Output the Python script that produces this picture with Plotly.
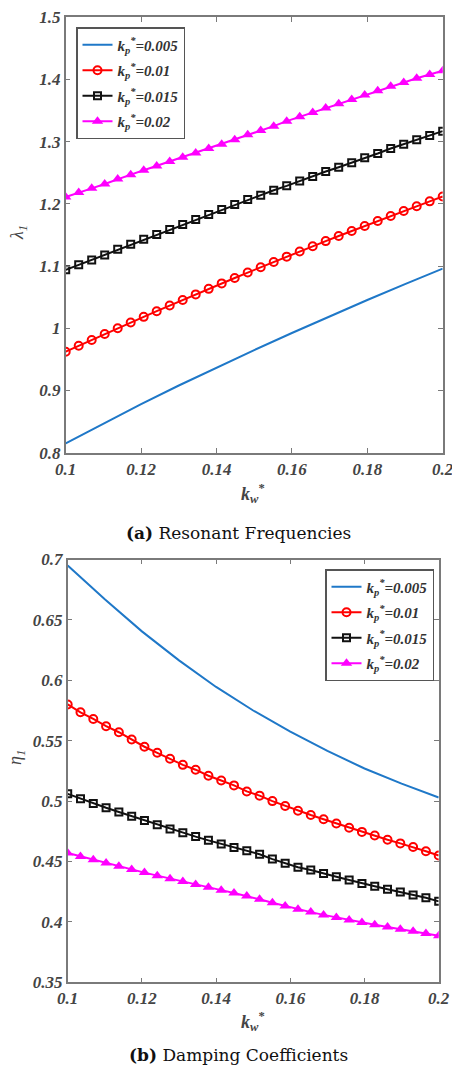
import numpy as np
import plotly.graph_objects as go

# ---- data -------------------------------------------------------------
kw_markers = np.linspace(0.1, 0.2, 30)
kw_line = [0.10, 0.11, 0.12, 0.13, 0.14, 0.15, 0.16, 0.17, 0.18, 0.19, 0.20]

series_names = ["0.005", "0.01", "0.015", "0.02"]

# (a) resonant frequencies lambda_1
lam_005 = [0.815, 0.847, 0.878, 0.908, 0.937, 0.965, 0.9925, 1.0195, 1.0455, 1.071, 1.096]
lam_010 = [0.9624, 0.9719, 0.9813, 0.9907, 1.0000, 1.0092, 1.0184, 1.0275, 1.0366, 1.0456,
           1.0545, 1.0634, 1.0722, 1.0809, 1.0896, 1.0982, 1.1067, 1.1152, 1.1236, 1.1319,
           1.1402, 1.1484, 1.1565, 1.1646, 1.1726, 1.1806, 1.1885, 1.1963, 1.2041, 1.2118]
lam_015 = [1.094, 1.102, 1.110, 1.118, 1.127, 1.135, 1.143, 1.151, 1.159, 1.167,
           1.175, 1.183, 1.191, 1.199, 1.207, 1.214, 1.222, 1.229, 1.237, 1.244,
           1.252, 1.259, 1.266, 1.274, 1.281, 1.289, 1.296, 1.303, 1.310, 1.317]
lam_020 = [1.211, 1.2185, 1.225, 1.232, 1.240, 1.247, 1.254, 1.261, 1.268, 1.275,
           1.282, 1.289, 1.296, 1.303, 1.311, 1.318, 1.325, 1.333, 1.340, 1.347,
           1.354, 1.361, 1.368, 1.375, 1.382, 1.389, 1.395, 1.402, 1.408, 1.414]

# (b) damping coefficients eta_1
eta_005 = [0.695, 0.667, 0.6405, 0.6165, 0.5945, 0.575, 0.5575, 0.5415, 0.527, 0.5145, 0.503]
eta_010 = [0.580, 0.5735, 0.568, 0.562, 0.557, 0.551, 0.545, 0.540, 0.535, 0.530,
           0.526, 0.521, 0.517, 0.513, 0.508, 0.5045, 0.500, 0.496, 0.492, 0.4885,
           0.485, 0.4815, 0.478, 0.4745, 0.4715, 0.468, 0.465, 0.462, 0.4585, 0.455]
eta_015 = [0.506, 0.502, 0.498, 0.4945, 0.491, 0.4875, 0.484, 0.4805, 0.477, 0.4738,
           0.4706, 0.4675, 0.4645, 0.4615, 0.4588, 0.456, 0.452, 0.4485, 0.4452, 0.443,
           0.440, 0.4374, 0.4347, 0.4318, 0.4295, 0.427, 0.4248, 0.4223, 0.4200, 0.417]
eta_020 = [0.457, 0.4542, 0.4514, 0.4487, 0.446, 0.4434, 0.4408, 0.4383, 0.4358, 0.4334,
           0.431, 0.4286, 0.4263, 0.424, 0.4215, 0.4187, 0.4158, 0.4131, 0.4105, 0.4081,
           0.4058, 0.4036, 0.4015, 0.3995, 0.3976, 0.3958, 0.394, 0.3922, 0.3904, 0.3886]

lam_ticks = [0.8, 0.9, 1.0, 1.1, 1.2, 1.3, 1.4, 1.5]
eta_ticks = [0.35, 0.4, 0.45, 0.5, 0.55, 0.6, 0.65, 0.7]
kw_ticks = [0.1, 0.12, 0.14, 0.16, 0.18, 0.2]

# ---- styling ----------------------------------------------------------
W, H = 452, 1066
SERIF = "Liberation Serif"
tickfont = dict(family=SERIF, size=17, color="#444444", weight="bold", style="italic")
legfont = dict(family=SERIF, size=15, color="#333333", weight="bold", style="italic")
AX = "#7a7a7a"

styles = [
    dict(mode="lines", line=dict(color="#1f78c8", width=2)),
    dict(mode="lines+markers", line=dict(color="#ff0000", width=2),
         marker=dict(symbol="circle-open", size=8, color="#ff0000", line=dict(width=2))),
    dict(mode="lines+markers", line=dict(color="#111111", width=2),
         marker=dict(symbol="square-open", size=7, color="#111111", line=dict(width=2))),
    dict(mode="lines+markers", line=dict(color="#ff00ff", width=2),
         marker=dict(symbol="triangle-up", size=10, color="#ff00ff")),
]

def label(v):
    return f"<b><i>k</i></b><sub><b><i>p</i></b></sub><sup><b>*</b></sup><b><i>={v}</i></b>"

fig = go.Figure()
top = [(kw_line, lam_005), (kw_markers, lam_010), (kw_markers, lam_015), (kw_markers, lam_020)]
bot = [(kw_line, eta_005), (kw_markers, eta_010), (kw_markers, eta_015), (kw_markers, eta_020)]
for i, (xs, ys) in enumerate(top):
    fig.add_trace(go.Scatter(x=xs, y=ys, name=label(series_names[i]), xaxis="x", yaxis="y",
                             legend="legend", legendgroup=f"a{i}", **styles[i]))
for i, (xs, ys) in enumerate(bot):
    fig.add_trace(go.Scatter(x=xs, y=ys, name=label(series_names[i]), xaxis="x2", yaxis="y2",
                             legend="legend2", legendgroup=f"b{i}", **styles[i]))

def px_x(p):
    return p / W

def px_y(p):
    return 1 - p / H

common = dict(showline=True, linecolor=AX, linewidth=1.5, mirror="ticks", ticks="inside",
              ticklen=5, tickcolor=AX, tickwidth=1, showgrid=False, zeroline=False,
              tickfont=tickfont, automargin=False, ticklabeloverflow="allow")

fig.update_layout(
    width=W, height=H, margin=dict(l=0, r=0, t=0, b=0),
    paper_bgcolor="white", plot_bgcolor="white", showlegend=True,
    xaxis=dict(domain=[px_x(65.7), px_x(442.7)], anchor="y", range=[0.1, 0.2],
               tickvals=kw_ticks, **common),
    yaxis=dict(domain=[px_y(452.7), px_y(17.3)], anchor="x", range=[0.8, 1.5],
               tickvals=lam_ticks, **common),
    xaxis2=dict(domain=[px_x(67.7), px_x(438.7)], anchor="y2", range=[0.1, 0.2],
                tickvals=kw_ticks, **common),
    yaxis2=dict(domain=[px_y(982.3), px_y(559.5)], anchor="x2", range=[0.35, 0.7],
                tickvals=eta_ticks, **common),
    legend=dict(x=px_x(76), y=px_y(27), xanchor="left", yanchor="top",
                bordercolor="#555555", borderwidth=1.5, bgcolor="white",
                font=legfont, itemwidth=30, tracegroupgap=3),
    legend2=dict(x=px_x(325), y=px_y(569), xanchor="left", yanchor="top",
                 bordercolor="#555555", borderwidth=1.5, bgcolor="white",
                 font=legfont, itemwidth=30, tracegroupgap=3),
)

kw_title = "<b><i>k</i></b><sub><b><i>w</i></b></sub><sup><b>*</b></sup>"
ann = [
    dict(x=px_x(253), y=px_y(493), text=kw_title),
    dict(x=px_x(253), y=px_y(1022), text=kw_title),
    dict(x=px_x(18), y=px_y(233), text="<i>λ</i><sub><i>1</i></sub>", textangle=-90),
    dict(x=px_x(16), y=px_y(758), text="<i>η</i><sub><i>1</i></sub>", textangle=-90),
]
for a in ann:
    fig.add_annotation(xref="paper", yref="paper", showarrow=False,
                       xanchor="center", yanchor="middle",
                       font=dict(family=SERIF, size=18, color="#444444"), **a)

capfont = dict(family="DejaVu Serif", size=17, color="#111111")
fig.add_annotation(xref="paper", yref="paper", x=px_x(238), y=px_y(533), showarrow=False,
                   xanchor="center", yanchor="middle", font=capfont,
                   text="<b>(a)</b> Resonant Frequencies")
fig.add_annotation(xref="paper", yref="paper", x=px_x(238), y=px_y(1055), showarrow=False,
                   xanchor="center", yanchor="middle", font=capfont,
                   text="<b>(b)</b> Damping Coefficients")

fig.write_html("out.html")
